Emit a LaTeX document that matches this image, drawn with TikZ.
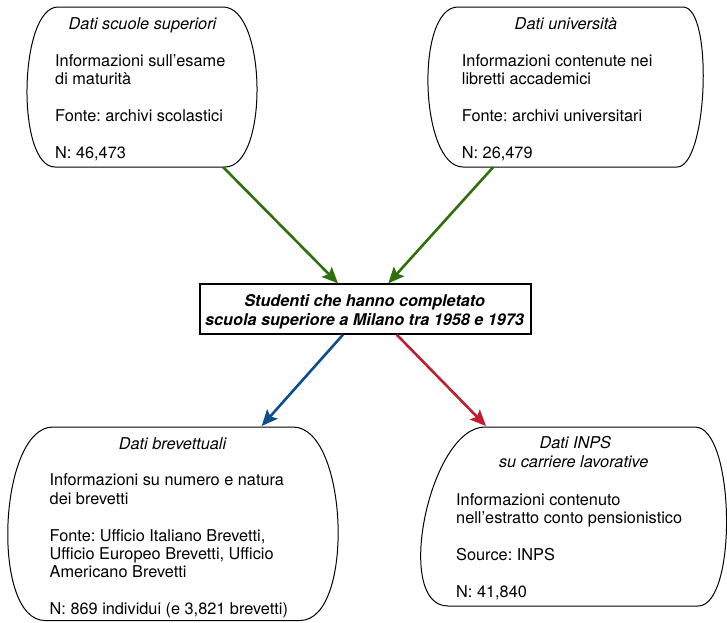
\documentclass[tikz,border=0pt]{standalone}
\usepackage{fontspec}
\setmainfont{TeX Gyre Heros}
\usetikzlibrary{arrows.meta,calc}
\definecolor{arrgreen}{RGB}{46,112,10}
\definecolor{arrblue}{RGB}{15,78,140}
\definecolor{arrred}{RGB}{192,32,44}
\frenchspacing
\begin{document}
\begin{tikzpicture}[x=1pt,y=-1pt,
  blob/.style={draw=black,line width=1pt},
  body/.style={inner sep=0pt,anchor=base west,font=\fontsize{16.3}{19}\selectfont\frenchspacing},
  ttl/.style={inner sep=0pt,anchor=base,font=\fontsize{16.3}{19}\selectfont\itshape\frenchspacing},
  ctl/.style={inner sep=0pt,anchor=base,font=\fontsize{16.2}{19}\selectfont\bfseries\itshape\frenchspacing},
  conn/.style={line width=2.6pt,-{Stealth[length=16pt,width=14pt,inset=3pt]}},
]
\useasboundingbox (0,0) rectangle (727,622);

% --- box 1: Dati scuole superiori
\draw[blob] (58,7) -- (223,7) .. controls (267,7) and (269,167) .. (225,167)
  -- (55,167) .. controls (15.7,167) and (18.7,7) .. (58,7);
\coordinate (b1out) at (223,167);
\node[ttl] (b1t) at (142.5,29) {Dati scuole superiori};
\node[body] (b1a) at (55,66) {Informazioni sull’esame};
\node[body] (b1b) at (55,84.5) {di maturità};
\node[body] (b1c) at (55,121.5) {Fonte: archivi scolastici};
\node[body] (b1d) at (55,158.5) {N: 46,473};

% --- box 2: Dati universita
\draw[blob] (458,7) -- (683,7) .. controls (713.7,7) and (707.7,167) .. (677,167)
  -- (463,167) .. controls (419.7,167) and (414.7,7) .. (458,7);
\coordinate (b2out) at (493.3,167);
\node[ttl] (b2t) at (566,29) {Dati università};
\node[body] (b2a) at (461.7,66) {Informazioni contenute nei};
\node[body] (b2b) at (461.7,84.5) {libretti accademici};
\node[body] (b2c) at (461.7,121.5) {Fonte: archivi universitari};
\node[body] (b2d) at (461.7,158.5) {N: 26,479};

% --- central box
\node[draw=black,line width=1.3pt,minimum width=331pt,minimum height=50pt,inner sep=0pt] (c) at (365.5,309) {};
\node[ctl] (c1) at (364.7,306) {Studenti che hanno completato};
\node[ctl] (c2) at (364.6,325.7) {scuola superiore a Milano tra 1958 e 1973};

% --- box 3: Dati brevettuali
\draw[blob] (53,427) -- (293,427) .. controls (348.3,427) and (355.3,620.5) .. (300,620.5)
  -- (45,620.5) .. controls (-9.7,620.5) and (-1.7,427) .. (53,427);
\coordinate (b3in) at (261.7,426);
\node[ttl] (b3t) at (172.5,449) {Dati brevettuali};
\node[body] (b3a) at (49.5,485.8) {Informazioni su numero e natura};
\node[body] (b3b) at (49.5,504.2) {dei brevetti};
\node[body] (b3c) at (49.5,541) {Fonte: Ufficio Italiano Brevetti,};
\node[body] (b3d) at (49.5,559.4) {Ufficio Europeo Brevetti, Ufficio};
\node[body] (b3e) at (49.5,577.8) {Americano Brevetti};
\node[body] (b3f) at (49.5,614.6) {N: 869 individui (e 3,821 brevetti)};

% --- box 4: Dati INPS
\draw[blob] (485,427) -- (695,427) .. controls (735,427) and (738,606) .. (698,606)
  -- (448,606) .. controls (392.7,606) and (429.7,427) .. (485,427);
\coordinate (b4in) at (486,426);
\node[ttl] (b4t) at (575.3,448.5) {Dati INPS};
\node[ttl] (b4u) at (573.7,467) {su carriere lavorative};
\node[body] (b4a) at (456,505.5) {Informazioni contenuto};
\node[body] (b4b) at (456,523.7) {nell’estratto conto pensionistico};
\node[body] (b4c) at (456,560.5) {Source: INPS};
\node[body] (b4d) at (456,597) {N: 41,840};

% --- connectors
\draw[conn,arrgreen] (b1out) -- ($(c.north)+(-27.5,0)$);
\draw[conn,arrgreen] (b2out) -- ($(c.north)+(22.8,0)$);
\draw[conn,arrblue] ($(c.south)+(-22.5,0)$) -- (b3in);
\draw[conn,arrred] ($(c.south)+(31.2,0)$) -- (b4in);
\end{tikzpicture}
\end{document}
